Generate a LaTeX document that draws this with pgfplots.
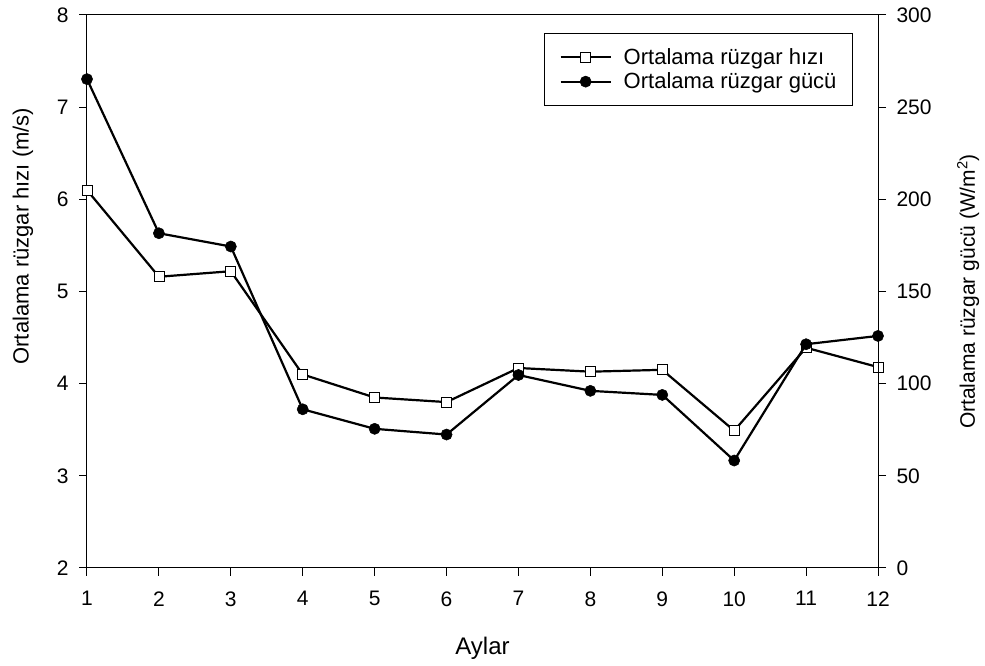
\documentclass[border=0pt]{standalone}
\usepackage{fontspec}
\setmainfont{Liberation Sans}
\usepackage{pgfplots}
\pgfplotsset{compat=1.18}
\begin{document}
\begin{tikzpicture}[x=1pt,y=1pt]
\path[use as bounding box] (-87,-98) rectangle (898,568);
\pgfplotsset{
  common/.style={
    width=791pt, height=553pt, scale only axis,
    xmin=1, xmax=12,
    tick align=outside,
    major tick length=8pt,
    axis line style={line width=1pt},
    every tick/.style={line width=1pt, black},
    ticklabel style={font=\fontsize{21}{23}\selectfont},
    /pgf/number format/assume math mode=true,
    legend image code/.code={\draw[mark repeat=2,mark phase=2] plot coordinates {(0pt,0pt) (25pt,0pt) (50pt,0pt)};},
  },
  speed/.style={black, line width=2.2pt, mark=square*, mark options={fill=white, line width=0.8pt}, mark size=5pt},
  power/.style={black, line width=2.2pt, mark=*, mark options={fill=black, line width=0.5pt}, mark size=5.6pt},
}
\begin{axis}[common,
  at={(0,0)}, anchor=south west,
  ymin=2, ymax=8,
  xtick={1,...,12}, ytick={2,...,8},
  xtick pos=bottom, ytick pos=left,
  xticklabel style={yshift=-12pt},
  yticklabel style={xshift=-7pt},
  xlabel={Aylar},
  xlabel style={font=\fontsize{24}{26}\selectfont, at={(rel axis cs:0.5,-0.145)}, anchor=center},
  ylabel={Ortalama rüzgar hızı (m/s)},
  ylabel style={font=\fontsize{22}{24}\selectfont, at={(rel axis cs:-0.081,0.6)}, anchor=center},
]
\addplot[speed] coordinates {
(1,6.10) (2,5.16) (3,5.22) (4,4.10) (5,3.85) (6,3.80)
(7,4.17) (8,4.13) (9,4.15) (10,3.49) (11,4.39) (12,4.18)
};
\end{axis}
\begin{axis}[common,
  at={(0,0)}, anchor=south west,
  ymin=0, ymax=300,
  ytick={0,50,...,300},
  axis y line*=right, axis x line=none,
  yticklabel style={xshift=7pt},
  ylabel={Ortalama rüzgar gücü (W/m\textsuperscript{2})},
  ylabel style={font=\fontsize{21}{23}\selectfont, at={(rel axis cs:1.114,0.5)}, anchor=center},
  legend style={at={(rel axis cs:0.9684,0.9675)}, anchor=north east,
    draw=black, line width=1pt, font=\fontsize{22}{24}\selectfont,
    inner xsep=15pt, inner ysep=14pt, row sep=5pt,
    nodes={inner sep=1pt},
    cells={anchor=west}},
  /tikz/every odd column/.append style={column sep=11pt},
  legend cell align=left,
]
\addlegendimage{speed}
\addlegendentry{Ortalama rüzgar hızı}
\addplot[power] coordinates {
(1,265.2) (2,181.6) (3,174.4) (4,86.1) (5,75.5) (6,72.4)
(7,104.7) (8,96.1) (9,93.9) (10,58.3) (11,121.4) (12,125.9)
};
\addlegendentry{Ortalama rüzgar gücü}
\end{axis}
\end{tikzpicture}
\end{document}
